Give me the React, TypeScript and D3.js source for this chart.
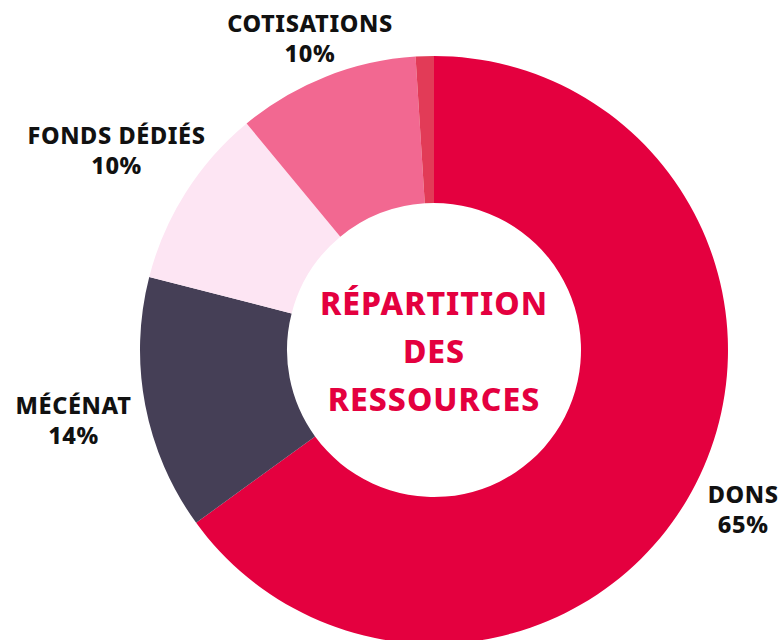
import React from 'react';
import * as d3 from 'd3';

// données
const categories = ['DONS', 'MÉCÉNAT', 'FONDS DÉDIÉS', 'COTISATIONS', 'AUTRES'];
const values = [65, 14, 10, 10, 1];
const labels = ['65%', '14%', '10%', '10%', ''];
const titleLines = ['RÉPARTITION', 'DES', 'RESSOURCES'];

const colors = ['#e4003f', '#453f56', '#fde5f3', '#f26891', '#e23b57'];
// distance du centre des étiquettes (par tranche)
const labelRadius = [347, 367, 376, 337, 0];

const W = 781;
const H = 640;
const cx = 434;
const cy = 350;
const outerR = 294;
const innerR = 147;
const font = "'Noto Sans', sans-serif";

const App = () => {
  const pie = d3.pie<number>().sort(null).value(d => d);
  const arcs = pie(values);
  const arc = d3.arc<d3.PieArcDatum<number>>().innerRadius(innerR).outerRadius(outerR);

  return (
    <svg width={W} height={H} style={{ position: 'absolute', left: 0, top: 0 }}>
      <g transform={`translate(${cx},${cy})`}>
        {arcs.map((a, i) => (
          <path key={i} d={arc(a) || ''} fill={colors[i]} />
        ))}
        {arcs.map((a, i) => {
          if (!labels[i]) return null;
          const mid = (a.startAngle + a.endAngle) / 2;
          const r = labelRadius[i];
          const x = Math.sin(mid) * r;
          const y = -Math.cos(mid) * r;
          return (
            <text key={i} x={x} y={y} textAnchor="middle" fontFamily={font}
              fontWeight={800} fontSize={23.5} letterSpacing={0.6} fill="#111">
              <tspan x={x} dy={-5}>{categories[i]}</tspan>
              <tspan x={x} dy={30}>{labels[i]}</tspan>
            </text>
          );
        })}
        <text textAnchor="middle" fontFamily={font} fontWeight={800} fontSize={32}
          letterSpacing={1} fill="#e4003f">
          {titleLines.map((t, i) => (
            <tspan key={i} x={0} y={-35 + i * 48}>{t}</tspan>
          ))}
        </text>
      </g>
    </svg>
  );
};

export default App;
